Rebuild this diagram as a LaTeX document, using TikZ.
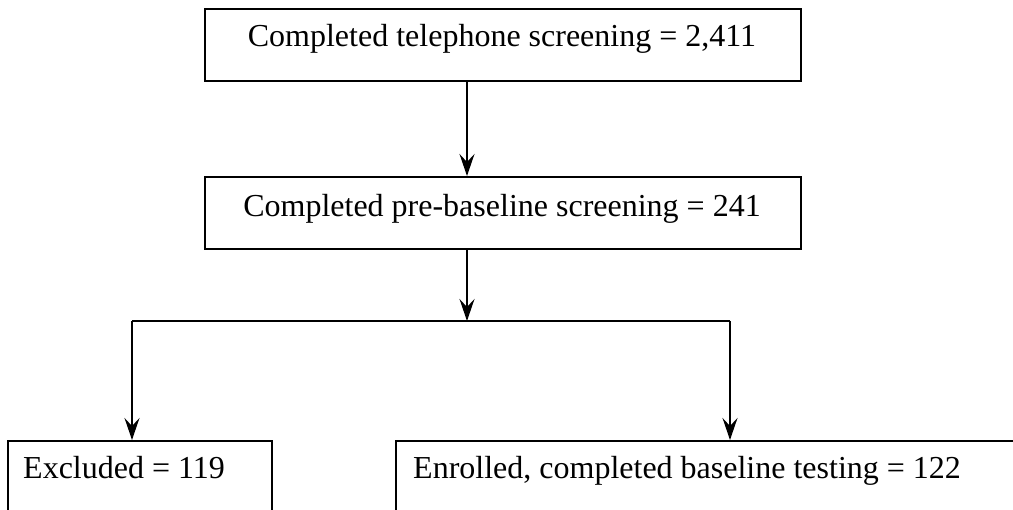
\documentclass[tikz,border=0pt]{standalone}
\usepackage{fontspec}
\setmainfont{Liberation Serif}
\usetikzlibrary{arrows.meta}
\tikzset{
  box/.style={draw=black, line width=2pt, rectangle, inner sep=0pt},
  txt/.style={inner sep=0pt, font=\fontsize{32}{38}\selectfont},
  arr/.style={line width=2pt, -{Stealth[length=22pt, width=15pt, inset=8pt]}},
  ln/.style={line width=2pt}
}
\begin{document}
\begin{tikzpicture}[x=1pt, y=-1pt]
\useasboundingbox (0,0) rectangle (1013,510);
\fill[white] (0,0) rectangle (1013,510);
\clip (0,0) rectangle (1013,510);
\node[box, minimum width=596pt, minimum height=72pt, anchor=north west] (tel) at (204,8) {};
\node[box, minimum width=596pt, minimum height=72pt, anchor=north west] (pre) at (204,176) {};
\node[box, minimum width=264pt, minimum height=120pt, anchor=north west] (excl) at (7,440) {};
\node[box, minimum width=700pt, minimum height=120pt, anchor=north west] (enr) at (395,440) {};
\node[txt, anchor=base] (teltxt) at (502,47) {Completed telephone screening = 2,411};
\node[txt, anchor=base] (pretxt) at (502,217) {Completed pre-baseline screening = 241};
\node[txt, anchor=base west] (excltxt) at (23,479) {Excluded = 119};
\node[txt, anchor=base west] (enrtxt) at (413,479) {Enrolled, completed baseline testing = 122};
\coordinate (s) at (467,0);
\coordinate (jl) at (132,321);
\coordinate (jr) at (730,321);
\draw[arr] (s |- tel.south) -- (s |- pre.north);
\draw[arr] (s |- pre.south) -- (s |- jl);
\draw[ln] (jl) -- (jr);
\draw[arr] (jl) -- (jl |- excl.north);
\draw[arr] (jr) -- (jr |- enr.north);
\end{tikzpicture}
\end{document}
